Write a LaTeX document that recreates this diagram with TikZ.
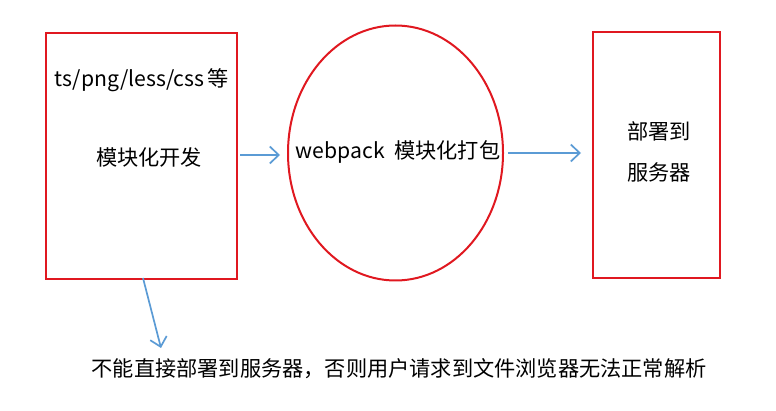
\documentclass[tikz,border=0pt]{standalone}
\usepackage{fontspec}
\setmainfont{Noto Sans CJK SC}
\usetikzlibrary{arrows.meta,shapes.geometric}
\definecolor{boxred}{RGB}{224,24,32}
\definecolor{arrblue}{RGB}{91,155,213}
\tikzset{
  redbox/.style={draw=boxred, line width=2pt, rectangle, inner sep=0pt},
  redell/.style={draw=boxred, line width=2pt, ellipse, inner sep=0pt},
  lbl/.style={font=\fontsize{21.2}{25}\selectfont, inner sep=0pt, anchor=center},
  arr/.style={draw=arrblue, line width=1.7pt, -{Straight Barb[length=9pt,width=17pt,line width=1.7pt]}}
}
\begin{document}
\begin{tikzpicture}[x=1pt,y=-1pt]
\useasboundingbox (0,0) rectangle (776,411);
\node[redbox, minimum width=191pt, minimum height=246pt] (L) at (141.5,156) {};
\node[redell, minimum width=215pt, minimum height=255pt] (E) at (395.5,153) {};
\node[redbox, minimum width=127pt, minimum height=246pt] (R) at (656.5,155) {};
\node[lbl] (t1) at (142,80) {ts/png/less/css\,等};
\node[lbl] (t2) at (149,157) {模块化开发};
\node[lbl] (t3) at (398,152) {webpack\ \ 模块化打包};
\node[lbl] (t4) at (659,131) {部署到};
\node[lbl] (t5) at (659,172) {服务器};
\node[lbl] (note) at (399,369) {不能直接部署到服务器，否则用户请求到文件浏览器无法正常解析};
\coordinate (a1s) at (240,155);
\coordinate (a1e) at (280,155);
\draw[arr] (a1s) -- (a1e);
\draw[arr] ([xshift=4pt]E.east) -- ([xshift=-11pt]R.west |- E.east);
\coordinate (a3e) at (161,348);
\draw[arr] ([xshift=1.5pt,yshift=2pt]L.south) -- (a3e);
\end{tikzpicture}
\end{document}
